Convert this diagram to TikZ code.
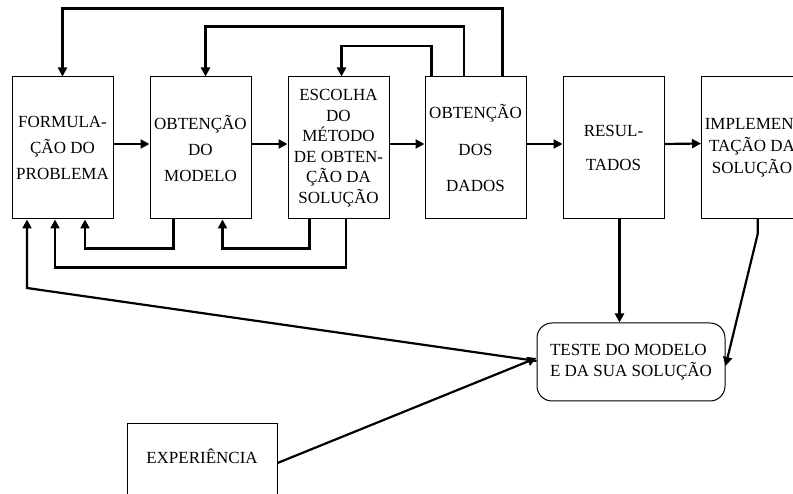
\documentclass[tikz,border=0pt]{standalone}
\usepackage{fontspec}
\setmainfont{Liberation Serif}
\usepackage{tikz}
\usetikzlibrary{arrows.meta,positioning}
\tikzset{
  blk/.style={draw, line width=1pt, minimum width=101pt, minimum height=142pt,
    inner sep=2pt, align=center, font=\fontsize{17}{#1}\selectfont},
  blk/.default=21,
  conn/.style={draw, line width=2.2pt, line join=miter},
  arr/.style={conn, -{Triangle[length=9pt,width=9pt]}},
}
\begin{document}
\begin{tikzpicture}[x=1pt,y=-1pt]
\clip (0,0) rectangle (793,494);
\fill[white] (0,0) rectangle (793,494);
% main chain
\node[blk=26] (form) at (62.5,148) {FORMULA-\\ÇÃO DO\\PROBLEMA};
\node[blk=26] (modl) at (200.5,148) {OBTENÇÃO\\DO\\MODELO};
\node[blk=20.5] (meto) at (338.5,148) {ESCOLHA\\DO\\MÉTODO\\DE OBTEN-\\ÇÃO DA\\SOLUÇÃO};
\node[blk=36.5] (dado) at (475.5,148) {OBTENÇÃO\\DOS\\DADOS};
\node[blk=34] (resu) at (613.5,148) {RESUL-\\TADOS};
\node[blk=22] (impl) at (752,147.5) {IMPLEMEN-\\TAÇÃO DA\\SOLUÇÃO};
\node[draw, line width=1pt, rounded corners=15pt, minimum width=188pt, minimum height=78pt,
  align=left, font=\fontsize{17}{21.3}\selectfont] (test) at (631,362) {TESTE DO MODELO\\E DA SUA SOLUÇÃO};
\node[draw, line width=1pt, minimum width=150pt, inner sep=0pt, text height=40pt, text depth=40pt,
  font=\fontsize{17}{21}\selectfont] (expe) at (202,463) {EXPERIÊNCIA};
\coordinate (bend) at (27,288);

% forward arrows
\foreach \a/\b in {form/modl,modl/meto,meto/dado,dado/resu,resu/impl}
  \draw[arr] ([yshift=4]\a.east) -- ([yshift=4]\b.west);

% feedback over the top
\draw[arr] ([xshift=27]dado.north) -- ++(0,-68) -| (form.north);
\draw[arr] ([xshift=-11.5]dado.north) -- ++(0,-50) -| ([xshift=5]modl.north);
\draw[arr] ([xshift=-44]dado.north) -- ++(0,-30.5) -| ([xshift=3]meto.north);

% feedback underneath
\draw[arr] ([xshift=-27]modl.south) -- ++(0,29) -| ([xshift=22.5]form.south);
\draw[arr] ([xshift=-29]meto.south) -- ++(0,29) -| ([xshift=22]modl.south);
\draw[arr] ([xshift=7.5]meto.south) -- ++(0,48) -| ([xshift=-7.5]form.south);

% test of the model
\draw[arr] ([xshift=6]resu.south) -- ([xshift=6]resu.south |- test.north);
\draw[arr] ([xshift=5.7]impl.south) -- ++(0,15) -- ([yshift=-4]test.east);
\draw[arr] ([yshift=1]test.west) -- (bend) -- ([xshift=-35.5]form.south);
\draw[arr] (expe.east) -- ([yshift=4]test.west);
\end{tikzpicture}
\end{document}
